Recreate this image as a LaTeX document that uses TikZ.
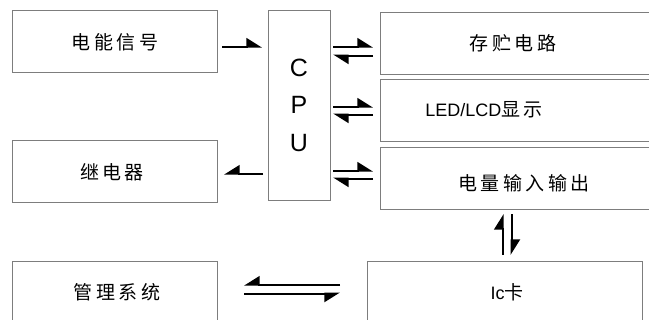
\documentclass[tikz,border=0pt]{standalone}
\usepackage{fontspec}
\setmainfont{Liberation Sans}
\newfontfamily\cjk[LetterSpace=18]{Noto Sans CJK SC}
\usetikzlibrary{arrows.meta}
\definecolor{boxline}{RGB}{125,125,125}
\tikzset{
  box/.style={draw=boxline, line width=1.1pt, rectangle, inner sep=0pt, anchor=north west},
  lbl/.style={font=\cjk\fontsize{19}{19}\selectfont, inner sep=0pt},
  cpul/.style={font=\fontsize{25}{25}\selectfont, inner sep=0pt},
  harpL/.style={line width=2pt, -{Triangle[left,length=14pt,width=17pt]}},
  harpR/.style={line width=2pt, -{Triangle[right,length=14pt,width=17pt]}},
}
\begin{document}
\begin{tikzpicture}[x=1pt,y=-1pt]
\useasboundingbox (0,0) rectangle (649,320);
\clip (0,0) rectangle (649,320);
% boxes
\node[box, minimum width=205pt, minimum height=62pt] (sig) at (12,10) {};
\node[box, minimum width=62pt, minimum height=190pt] (cpu) at (268,10) {};
\node[box, minimum width=280pt, minimum height=62pt] (mem) at (380,12) {};
\node[box, minimum width=280pt, minimum height=62pt] (led) at (380,79) {};
\node[box, minimum width=280pt, minimum height=62pt] (io) at (380,147) {};
\node[box, minimum width=205pt, minimum height=62pt] (relay) at (12,140) {};
\node[box, minimum width=205pt, minimum height=79pt] (mgmt) at (12,261) {};
\node[box, minimum width=275pt, minimum height=79pt] (ic) at (367,261) {};
% texts
\node[lbl] (sigt) at (115,42) {电能信号};
\node[lbl] (relayt) at (112,172) {继电器};
\node[lbl] (mgmtt) at (117,292) {管理系统};
\node[lbl] (memt) at (513,43) {存贮电路};
\node[inner sep=0pt] (ledt) at (484,110) {{\fontsize{18}{18}\selectfont LED/LCD}{\cjk\fontsize{19}{19}\selectfont 显示}};
\node[lbl] (iot) at (524,183) {电量输入输出};
\node[inner sep=0pt] (ict) at (507,292) {{\fontsize{18}{18}\selectfont Ic}{\cjk\fontsize{19}{19}\selectfont 卡}};
\node[cpul] (c1) at (299,68) {C};
\node[cpul] (c2) at (299,105) {P};
\node[cpul] (c3) at (299,143) {U};
% connectors
\draw[harpL] ([shift={(4,5)}]sig.east) -- ([shift={(-6,5)}]sig.east -| cpu.west);
\draw[harpR] ([shift={(-5,2)}]relay.east -| cpu.west) -- ([shift={(6,2)}]relay.east);
\draw[harpL] ([shift={(2,3)}]mem.west -| cpu.east) -- ([shift={(-7,3)}]mem.west);
\draw[harpL] ([shift={(-7,12)}]mem.west) -- ([shift={(2,12)}]mem.west -| cpu.east);
\draw[harpL] ([shift={(2,-4)}]led.west -| cpu.east) -- ([shift={(-7,-4)}]led.west);
\draw[harpL] ([shift={(-7,4)}]led.west) -- ([shift={(2,4)}]led.west -| cpu.east);
\draw[harpL] ([shift={(2,-8)}]io.west -| cpu.east) -- ([shift={(-7,-8)}]io.west);
\draw[harpL] ([shift={(-7,0)}]io.west) -- ([shift={(2,0)}]io.west -| cpu.east);
\draw[harpL] ([shift={(-2.5,-6)}]ic.north) -- ([shift={(-2.5,4)}]io.south -| ic.north);
\draw[harpL] ([shift={(6.5,4)}]io.south -| ic.north) -- ([shift={(6.5,-6)}]ic.north);
\draw[harpR] ([shift={(-27,-16.5)}]ic.west) -- ([shift={(26,-16.5)}]mgmt.east);
\draw[harpR] ([shift={(26,-7.5)}]mgmt.east) -- ([shift={(-27,-7.5)}]ic.west);
\end{tikzpicture}
\end{document}
